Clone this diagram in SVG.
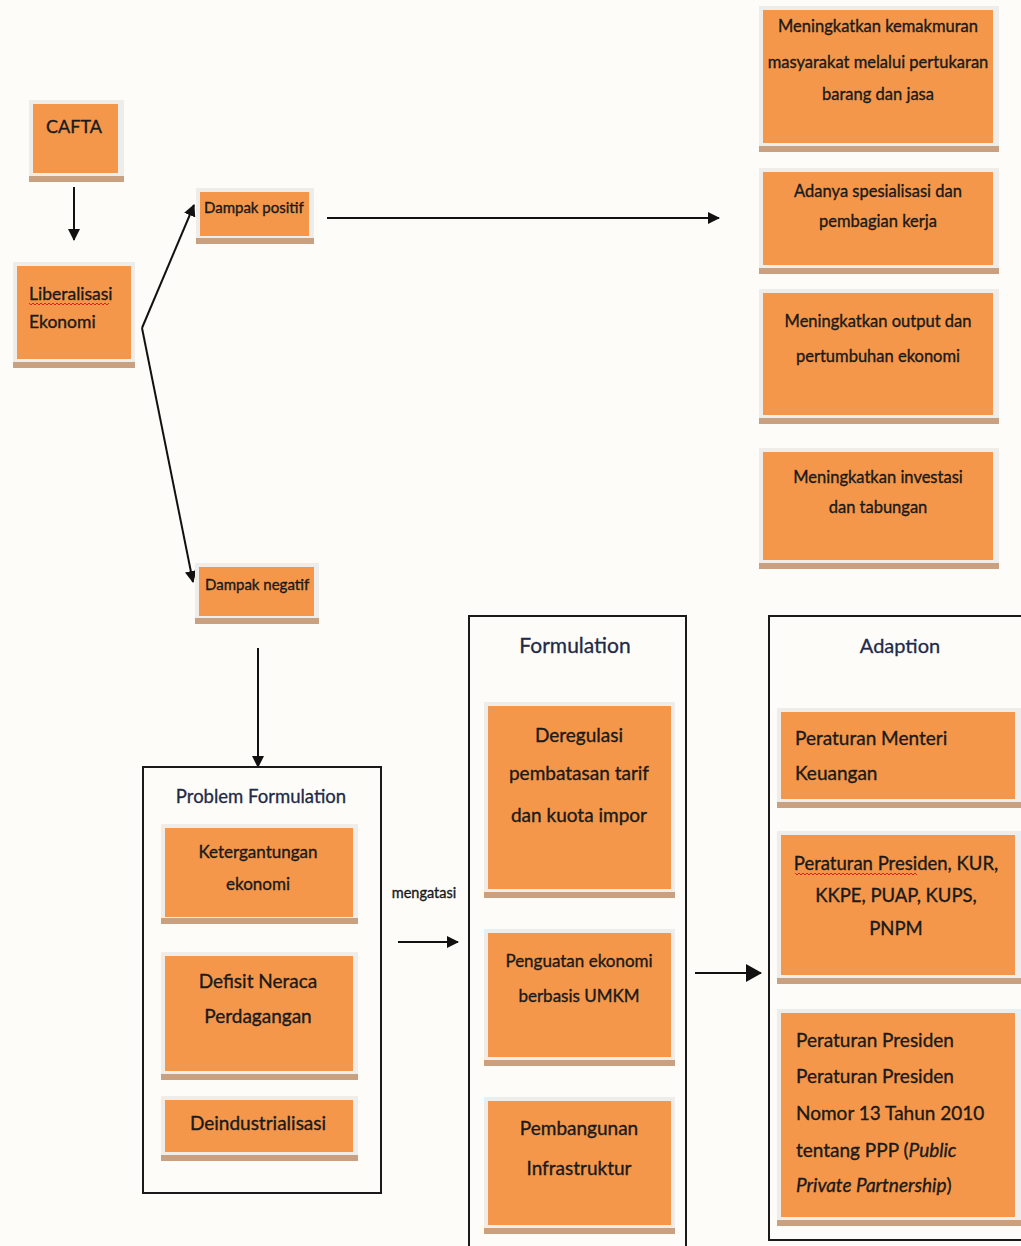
<svg xmlns="http://www.w3.org/2000/svg" width="1021" height="1246" viewBox="0 0 1021 1246">
<style>
.frame{fill:#efedea}
.shadow{fill:#c9a181}
.box{fill:#f5974b}
.t{font-family:Lato,"Open Sans","Liberation Sans",sans-serif;fill:#1a1a1a;stroke:#1a1a1a;stroke-width:0.35}
.c{text-anchor:middle}
.title{font-family:Lato,"Open Sans","Liberation Sans",sans-serif;fill:#1f2a48;stroke:#1f2a48;stroke-width:0.3;font-size:20px;text-anchor:middle}
.container{fill:none;stroke:#1a1a1a;stroke-width:2}
.line{fill:none;stroke:#111;stroke-width:2}
.wavy{fill:none;stroke:#e02020;stroke-width:1}
</style>
<defs>
<marker id="ah" markerUnits="userSpaceOnUse" markerWidth="12" markerHeight="12" refX="11" refY="6" orient="auto">
<path d="M0,0 L12,6 L0,12 Z" fill="#111"/>
</marker>
<marker id="ahb" markerUnits="userSpaceOnUse" markerWidth="16" markerHeight="18" refX="15" refY="9" orient="auto">
<path d="M0,0 L16,9 L0,18 Z" fill="#111"/>
</marker>
</defs>
<rect x="0" y="0" width="1021" height="1246" fill="#fdfcf8"/>

<g id="connectors">
<line class="line" x1="74" y1="187" x2="74" y2="240" marker-end="url(#ah)"/>
<line class="line" x1="142" y1="328" x2="194" y2="205" marker-end="url(#ah)"/>
<line class="line" x1="142" y1="328" x2="193" y2="582" marker-end="url(#ah)"/>
<line class="line" x1="327" y1="218" x2="719" y2="218" marker-end="url(#ah)"/>
<line class="line" x1="258" y1="648" x2="258" y2="767" marker-end="url(#ah)"/>
<line class="line" x1="398" y1="942" x2="458" y2="942" stroke-width="3" marker-end="url(#ah)"/>
<line class="line" x1="695" y1="973" x2="761" y2="973" stroke-width="5" marker-end="url(#ahb)"/>
<text class="t" x="424" y="898" font-size="14.5" text-anchor="middle" fill="#1f2a48" stroke="#1f2a48">mengatasi</text>
</g>

<g id="cafta">
<rect class="frame" x="29" y="100" width="95" height="80"/>
<rect class="shadow" x="29" y="176" width="95" height="6"/>
<rect class="box" x="33" y="104" width="85" height="69"/>
<text class="t c" x="74" y="133" font-size="18">CAFTA</text>
</g>

<g id="liberalisasi">
<rect class="frame" x="13" y="262" width="122" height="104"/>
<rect class="shadow" x="13" y="362" width="122" height="6"/>
<rect class="box" x="17" y="266" width="114" height="93"/>
<text class="t" x="29" y="300" font-size="17.5">Liberalisasi</text>
<path class="wavy" d="M29,303 l2,2 l2,-2 l2,2 l2,-2 l2,2 l2,-2 l2,2 l2,-2 l2,2 l2,-2 l2,2 l2,-2 l2,2 l2,-2 l2,2 l2,-2 l2,2 l2,-2 l2,2 l2,-2 l2,2 l2,-2 l2,2 l2,-2 l2,2 l2,-2 l2,2 l2,-2 l2,2 l2,-2 l2,2 l2,-2 l2,2 l2,-2 l2,2 l2,-2 l2,2 l2,-2 l2,2 l2,-2"/>
<text class="t" x="29" y="328" font-size="17.5">Ekonomi</text>
</g>

<g id="dampak-positif">
<rect class="frame" x="196" y="188" width="118" height="52"/>
<rect class="shadow" x="196" y="238" width="118" height="6"/>
<rect class="box" x="200" y="192" width="109" height="44"/>
<text class="t" x="204" y="213" font-size="15">Dampak positif</text>
</g>

<g id="dampak-negatif">
<rect class="frame" x="195" y="563" width="124" height="56"/>
<rect class="shadow" x="195" y="618" width="124" height="6"/>
<rect class="box" x="199" y="567" width="115" height="49"/>
<text class="t" x="205" y="590" font-size="15">Dampak negatif</text>
</g>

<g id="pos1">
<rect class="frame" x="759" y="6" width="240" height="141"/>
<rect class="shadow" x="759" y="146" width="240" height="6"/>
<rect class="box" x="763" y="10" width="230" height="133"/>
<text class="t c" x="878" y="32" font-size="16.5">Meningkatkan kemakmuran</text>
<text class="t c" x="878" y="68" font-size="16.5">masyarakat melalui pertukaran</text>
<text class="t c" x="878" y="100" font-size="16.5">barang dan jasa</text>
</g>

<g id="pos2">
<rect class="frame" x="759" y="168" width="240" height="101"/>
<rect class="shadow" x="759" y="268" width="240" height="6"/>
<rect class="box" x="763" y="172" width="230" height="93"/>
<text class="t c" x="878" y="197" font-size="16.5">Adanya spesialisasi dan</text>
<text class="t c" x="878" y="227" font-size="16.5">pembagian kerja</text>
</g>

<g id="pos3">
<rect class="frame" x="759" y="289" width="240" height="130"/>
<rect class="shadow" x="759" y="418" width="240" height="6"/>
<rect class="box" x="763" y="293" width="230" height="122"/>
<text class="t c" x="878" y="327" font-size="16.5">Meningkatkan output dan</text>
<text class="t c" x="878" y="362" font-size="16.5">pertumbuhan ekonomi</text>
</g>

<g id="pos4">
<rect class="frame" x="759" y="448" width="240" height="116"/>
<rect class="shadow" x="759" y="563" width="240" height="6"/>
<rect class="box" x="763" y="452" width="230" height="108"/>
<text class="t c" x="878" y="483" font-size="16.5">Meningkatkan investasi</text>
<text class="t c" x="878" y="513" font-size="16.5">dan tabungan</text>
</g>

<g id="problem-formulation">
<rect class="container" x="143" y="767" width="238" height="426"/>
<text class="title" x="261" y="803" font-size="18.5" style="font-size:18.5px">Problem Formulation</text>
</g>

<g id="ketergantungan">
<rect class="frame" x="161" y="824" width="197" height="96"/>
<rect class="shadow" x="161" y="918" width="197" height="6"/>
<rect class="box" x="165" y="828" width="188" height="89"/>
<text class="t c" x="258" y="858" font-size="17">Ketergantungan</text>
<text class="t c" x="258" y="890" font-size="17">ekonomi</text>
</g>

<g id="defisit">
<rect class="frame" x="161" y="952" width="197" height="123"/>
<rect class="shadow" x="161" y="1074" width="197" height="6"/>
<rect class="box" x="165" y="956" width="188" height="115"/>
<text class="t c" x="258" y="988" font-size="19">Defisit Neraca</text>
<text class="t c" x="258" y="1023" font-size="19">Perdagangan</text>
</g>

<g id="deindustrialisasi">
<rect class="frame" x="161" y="1096" width="197" height="60"/>
<rect class="shadow" x="161" y="1155" width="197" height="6"/>
<rect class="box" x="165" y="1100" width="188" height="52"/>
<text class="t c" x="258" y="1130" font-size="19">Deindustrialisasi</text>
</g>

<g id="formulation">
<rect class="container" x="469" y="616" width="217" height="640"/>
<text class="title" x="575" y="653" style="font-size:21px">Formulation</text>
</g>

<g id="deregulasi">
<rect class="frame" x="484" y="702" width="191" height="191"/>
<rect class="shadow" x="484" y="892" width="191" height="6"/>
<rect class="box" x="488" y="706" width="183" height="183"/>
<text class="t c" x="579" y="742" font-size="19">Deregulasi</text>
<text class="t c" x="579" y="780" font-size="19">pembatasan tarif</text>
<text class="t c" x="579" y="822" font-size="19">dan kuota impor</text>
</g>

<g id="penguatan">
<rect class="frame" x="484" y="929" width="191" height="132"/>
<rect class="shadow" x="484" y="1060" width="191" height="6"/>
<rect class="box" x="488" y="933" width="183" height="124"/>
<text class="t c" x="579" y="967" font-size="17">Penguatan ekonomi</text>
<text class="t c" x="579" y="1002" font-size="17">berbasis UMKM</text>
</g>

<g id="pembangunan">
<rect class="frame" x="484" y="1097" width="191" height="132"/>
<rect class="shadow" x="484" y="1228" width="191" height="6"/>
<rect class="box" x="488" y="1101" width="183" height="124"/>
<text class="t c" x="579" y="1135" font-size="19">Pembangunan</text>
<text class="t c" x="579" y="1175" font-size="19">Infrastruktur</text>
</g>

<g id="adaption">
<rect class="container" x="769" y="616" width="270" height="624"/>
<text class="title" x="900" y="653">Adaption</text>
</g>

<g id="menteri">
<rect class="frame" x="777" y="708" width="244" height="95"/>
<rect class="shadow" x="777" y="802" width="244" height="6"/>
<rect class="box" x="781" y="712" width="234" height="87"/>
<text class="t" x="795" y="745" font-size="19">Peraturan Menteri</text>
<text class="t" x="795" y="780" font-size="19">Keuangan</text>
</g>

<g id="presiden-kur">
<rect class="frame" x="777" y="831" width="244" height="148"/>
<rect class="shadow" x="777" y="978" width="244" height="6"/>
<rect class="box" x="781" y="835" width="234" height="140"/>
<text class="t c" x="896" y="870" font-size="18.5">Peraturan Presiden, KUR,</text>
<path class="wavy" d="M795,873 l2,2 l2,-2 l2,2 l2,-2 l2,2 l2,-2 l2,2 l2,-2 l2,2 l2,-2 l2,2 l2,-2 l2,2 l2,-2 l2,2 l2,-2 l2,2 l2,-2 l2,2 l2,-2 l2,2 l2,-2 l2,2 l2,-2 l2,2 l2,-2 l2,2 l2,-2 l2,2 l2,-2 l2,2 l2,-2 l2,2 l2,-2 l2,2 l2,-2 l2,2 l2,-2 l2,2 l2,-2 l2,2 l2,-2 l2,2 l2,-2 l2,2 l2,-2 l2,2 l2,-2 l2,2 l2,-2 l2,2 l2,-2 l2,2 l2,-2 l2,2 l2,-2 l2,2 l2,-2 l2,2 l2,-2 l2,2"/>
<text class="t c" x="896" y="902" font-size="18.5">KKPE, PUAP, KUPS,</text>
<text class="t c" x="896" y="935" font-size="18.5">PNPM</text>
</g>

<g id="presiden-ppp">
<rect class="frame" x="777" y="1009" width="244" height="212"/>
<rect class="shadow" x="777" y="1220" width="244" height="6"/>
<rect class="box" x="781" y="1013" width="234" height="204"/>
<text class="t" x="796" y="1047" font-size="19">Peraturan Presiden</text>
<text class="t" x="796" y="1083" font-size="19">Peraturan Presiden</text>
<text class="t" x="796" y="1120" font-size="19">Nomor 13 Tahun 2010</text>
<text class="t" x="796" y="1157" font-size="19">tentang PPP (<tspan font-style="italic">Public</tspan></text>
<text class="t" x="796" y="1192" font-size="19"><tspan font-style="italic">Private  Partnership</tspan>)</text>
</g>
</svg>
